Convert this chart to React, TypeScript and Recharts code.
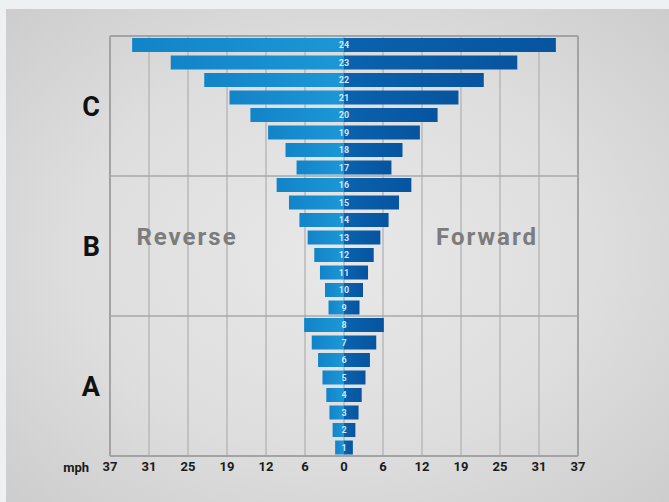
import React from "react";
import {
  BarChart,
  Bar,
  XAxis,
  YAxis,
  CartesianGrid,
  ReferenceLine,
  LabelList,
  Label,
} from "recharts";

const gears = [1, 2, 3, 4, 5, 6, 7, 8, 9, 10, 11, 12, 13, 14, 15, 16, 17, 18, 19, 20, 21, 22, 23, 24];
const reverseMph = [1.4, 1.8, 2.3, 2.8, 3.4, 4.1, 5.1, 6.3, 2.45, 3.0, 3.8, 4.7, 5.75, 7.05, 8.7, 10.65, 7.5, 9.25, 12.0, 14.8, 18.1, 22.1, 27.4, 33.5];
const forwardMph = [1.4, 1.8, 2.3, 2.8, 3.4, 4.1, 5.1, 6.3, 2.45, 3.0, 3.8, 4.7, 5.75, 7.05, 8.7, 10.65, 7.5, 9.25, 12.0, 14.8, 18.1, 22.1, 27.4, 33.5];
const tickLabels = ["37", "31", "25", "19", "12", "6", "0", "6", "12", "19", "25", "31", "37"];
const groupNames = ["A", "B", "C"];
const groupCenters = [4.5, 12.5, 20.5];
const groupBreaks = [8.5, 16.5];
const maxMph = 37;

const data = gears.map((g, i) => ({
  gear: g,
  reverse: -reverseMph[i],
  forward: forwardMph[i],
}));

const tickPositions = tickLabels.map((_, i) => ((i - 6) * maxMph) / 6);

const FONT = "Roboto, 'DejaVu Sans', sans-serif";

const GearLabel = (props: any) => {
  const { x, y, height, value } = props;
  return (
    <text
      x={x}
      y={y + height / 2}
      dy="0.36em"
      textAnchor="middle"
      fontFamily={FONT}
      fontWeight={700}
      fontSize={9}
      fill="#cfe7f6"
    >
      {value}
    </text>
  );
};

export default function App() {
  return (
    <div style={{ position: "absolute", left: 0, top: 0, width: 669, height: 502, background: "#eef1f2", overflow: "hidden" }}>
      <div
        style={{
          position: "absolute",
          left: 6,
          top: 9,
          width: 663,
          height: 493,
          background: "radial-gradient(ellipse at 50% 50%, #e8e8e8 0%, #dedede 55%, #cdcdcd 100%)",
        }}
      />
      <div style={{ position: "absolute", left: 0, top: 0 }}>
        <BarChart
          width={669}
          height={502}
          data={data}
          layout="vertical"
          stackOffset="sign"
          margin={{ top: 36, right: 91, bottom: 30, left: 70 }}
        >
          <defs>
            <linearGradient id="revGrad" x1="0" y1="0" x2="1" y2="0">
              <stop offset="0%" stopColor="#1284c8" />
              <stop offset="100%" stopColor="#1c97d6" />
            </linearGradient>
            <linearGradient id="fwdGrad" x1="0" y1="0" x2="1" y2="0">
              <stop offset="0%" stopColor="#0a62ae" />
              <stop offset="100%" stopColor="#07549f" />
            </linearGradient>
          </defs>
          <CartesianGrid horizontal={false} vertical={true} stroke="#b9b9b9" strokeWidth={1.5} />
          <XAxis
            type="number"
            domain={[-maxMph, maxMph]}
            ticks={tickPositions}
            interval={0}
            tickFormatter={(_v: any, i: number) => tickLabels[i]}
            tickSize={0}
            tickMargin={6}
            axisLine={false}
            height={16}
            tick={{ fontFamily: FONT, fontWeight: 700, fontSize: 13, fill: "#1a1a1a" }}
          >
            <Label
              value="mph"
              position="left"
              offset={21}
              dy={3}
              style={{ fontFamily: FONT, fontWeight: 700, fontSize: 13, fill: "#1a1a1a" }}
            />
          </XAxis>
          <YAxis
            type="number"
            dataKey="gear"
            domain={[0.5, 24.5]}
            reversed={true}
            ticks={groupCenters}
            interval={0}
            tickFormatter={(_v: any, i: number) => groupNames[i]}
            axisLine={false}
            tickLine={false}
            tickSize={0}
            tickMargin={10}
            width={40}
            tick={{ fontFamily: FONT, fontWeight: 700, fontSize: 27, fill: "#111111" }}
          />
          {groupBreaks.map((b) => (
            <ReferenceLine key={b} y={b} stroke="#a9a9a9" strokeWidth={1.5} />
          ))}
          <ReferenceLine y={0.5} stroke="#a3a3a3" strokeWidth={2} />
          <ReferenceLine y={24.5} stroke="#a3a3a3" strokeWidth={2} />
          <ReferenceLine x={-maxMph} stroke="#a3a3a3" strokeWidth={2} />
          <ReferenceLine x={maxMph} stroke="#a3a3a3" strokeWidth={2} />
          <Bar dataKey="reverse" stackId="s" fill="url(#revGrad)" barSize={14} isAnimationActive={false} />
          <Bar dataKey="forward" stackId="s" fill="url(#fwdGrad)" barSize={14} isAnimationActive={false}>
            <LabelList dataKey="gear" content={GearLabel} />
          </Bar>
        </BarChart>
      </div>
      <svg width={669} height={502} style={{ position: "absolute", left: 0, top: 0, pointerEvents: "none" }}>
        <text x={187} y={245} textAnchor="middle" fontFamily={FONT} fontWeight={700} fontSize={24} letterSpacing={2} fill="#7c7c7c">
          Reverse
        </text>
        <text x={487} y={245} textAnchor="middle" fontFamily={FONT} fontWeight={700} fontSize={24} letterSpacing={2} fill="#7c7c7c">
          Forward
        </text>
      </svg>
    </div>
  );
}
